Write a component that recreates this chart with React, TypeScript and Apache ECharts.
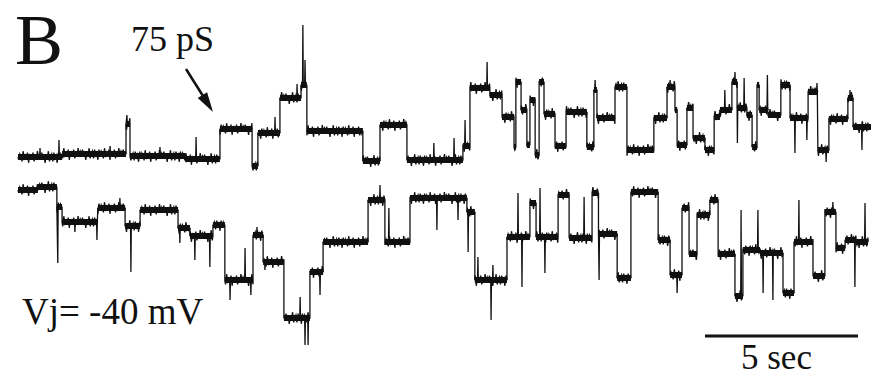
import { useEffect, useRef } from "react";
import * as echarts from "echarts";

// Single-channel recording, two simultaneous traces (time in s, current in pA).
// Dwell segments: [start s, end s, level pA]; brief excursions: [time s, peak pA].
const topDwells: [number, number, number][] = [
  [0, 1.44, 0], [1.44, 3.53, 0.3], [3.53, 3.66, 3.3], [3.66, 5.46, 0.1],
  [5.46, 6.6, -0.2], [6.6, 7.65, 2.8], [7.65, 7.84, -0.9], [7.84, 8.56, 2.4],
  [8.56, 9.25, 5.9], [9.25, 9.44, 7.2], [9.44, 11.27, 2.6], [11.27, 11.83, -0.4],
  [11.83, 12.71, 3.2], [12.71, 14.54, -0.3], [14.54, 14.77, 1.1], [14.77, 15.42, 6.9],
  [15.42, 15.82, 6.2], [15.82, 16.21, 4.0], [16.21, 16.27, 1.0], [16.27, 16.44, 7.5],
  [16.44, 16.63, 4.7], [16.63, 16.73, 1.2], [16.73, 16.9, 5.7], [16.9, 17.03, 0.2],
  [17.03, 17.19, 7.5], [17.19, 17.55, 4.3], [17.55, 17.91, 1.1], [17.91, 18.59, 4.5],
  [18.59, 18.82, 1.0], [18.82, 18.92, 6.7], [18.92, 19.51, 3.9], [19.51, 19.9, 7.0],
  [19.9, 20.78, 0.7], [20.78, 21.21, 3.9], [21.21, 21.47, 7.0], [21.47, 21.54, 4.7],
  [21.54, 21.86, 1.2], [21.86, 22.06, 4.9], [22.06, 22.45, 1.9], [22.45, 22.75, 0.7],
  [22.75, 22.94, 4.0], [22.94, 23.33, 4.7], [23.33, 23.5, 7.5], [23.5, 23.82, 4.9],
  [23.82, 23.99, 4.2], [23.99, 24.15, 1.0], [24.15, 24.22, 7.2], [24.22, 24.51, 4.7],
  [24.51, 24.93, 4.2], [24.93, 25.23, 7.2], [25.23, 25.82, 3.9], [25.82, 26.14, 6.5],
  [26.14, 26.5, 0.7], [26.5, 27.12, 3.8], [27.12, 27.29, 5.9], [27.29, 27.88, 3.0],
];
const topSpikes: [number, number][] = [
  [0.72, 0.9], [1.34, 1.7], [3.01, 1.1], [3.56, 4.2], [4.64, 1.0], [5.82, 2.0],
  [8.4, 4.0], [9.12, 7.3], [9.31, 13.2], [9.38, 9.7], [13.59, 1.4], [14.25, 1.9],
  [14.61, 3.7], [15.33, 9.5], [18.86, 7.7], [21.31, 7.7], [23.1, 6.7], [23.43, 8.5],
  [23.51, 1.4], [23.73, 7.9], [24.49, 8.2], [25.39, 0.4], [25.78, 1.7], [26.11, 7.4],
  [26.41, -0.5], [27.19, 6.7], [27.58, 0.7],
];

const bottomDwells: [number, number, number][] = [
  [0, 0.65, -0.2], [0.65, 1.27, 0.1], [1.27, 1.44, -1.9], [1.44, 2.61, -3.4],
  [2.61, 3.5, -2.0], [3.5, 3.99, -3.8], [3.99, 5.23, -2.2], [5.23, 5.62, -4.0],
  [5.62, 6.37, -4.8], [6.37, 6.76, -3.7], [6.76, 7.68, -9.2], [7.68, 8.01, -4.7],
  [8.01, 8.69, -7.4], [8.69, 9.54, -13.0], [9.54, 9.97, -8.4], [9.97, 11.44, -5.4],
  [11.44, 11.99, -1.2], [11.99, 12.81, -5.4], [12.81, 14.67, -1.0], [14.67, 14.93, -2.4],
  [14.93, 15.98, -9.2], [15.98, 16.73, -4.9], [16.73, 16.93, -1.5], [16.93, 17.65, -4.9],
  [17.65, 18.01, -0.7], [18.01, 18.76, -5.0], [18.76, 18.97, -0.5], [18.97, 19.58, -4.6],
  [19.58, 20.03, -9.0], [20.03, 20.92, -0.4], [20.92, 21.31, -5.2], [21.31, 21.7, -8.7],
  [21.7, 21.93, -2.0], [21.93, 22.19, -6.6], [22.19, 22.61, -2.7], [22.61, 22.88, -1.2],
  [22.88, 23.43, -6.6], [23.43, 23.69, -10.8], [23.69, 24.25, -6.2], [24.25, 25.0, -6.5],
  [25.0, 25.36, -10.5], [25.36, 25.98, -5.4], [25.98, 26.37, -8.8], [26.37, 26.73, -2.4],
  [26.73, 27.03, -6.0], [27.03, 27.39, -5.2], [27.39, 27.78, -5.4],
];
const bottomSpikes: [number, number][] = [
  [1.3, -7.5], [1.86, -4.4], [2.58, -5.2], [3.33, -1.0], [3.69, -8.4], [5.29, -5.5],
  [5.78, -7.2], [6.27, -7.9], [6.93, -11.2], [7.42, -6.0], [7.61, -10.7], [7.81, -3.9],
  [8.07, -8.2], [9.22, -10.9], [9.38, -15.7], [9.48, -15.7], [9.87, -10.7], [11.83, 0.3],
  [12.12, -2.0], [13.69, -4.2], [14.38, -3.2], [14.71, -6.4], [15.03, -6.9], [15.46, -13.2],
  [15.52, -7.7], [16.34, -0.5], [16.47, -9.9], [17.06, 0.0], [17.22, -8.5], [18.5, -0.9],
  [18.99, -9.2], [21.54, -10.5], [23.63, -2.2], [24.18, -2.2], [24.35, -10.5], [24.67, -11.2],
  [25.52, -1.2], [26.63, -1.4], [27.35, -9.9], [27.68, -1.5],
];

// Time scale bar: start and end in seconds, and its level on the lower trace's axis (pA).
const scaleBar: [number, number] = [22.45, 27.45];
const scaleBarLevel = -14.8;

const panelLabel = "B";
const conductanceLabel = "75 pS";
const voltageLabel = "Vj= -40 mV";
const scaleLabel = "5 sec";

const W = 871;
const H = 377;
const FONT = '"Liberation Serif", "Times New Roman", serif';
const INK = "#111";

// Fixed jagged texture (pixel offsets) used to draw the recording noise band.
const NOISE_TEXTURE = [
  0, -3, 2, -1, 4, -2, 1, -4, 3, 0, -2, 3, -3, 1, -1, 4, -3, 2, -2,
  0, 3, -4, 1, -1, 2, -3, 4, -2, 0, 1, -3, 3, -1, 2, -4, 1, -2,
];
const TEXTURE_STEP = 1.1;
const TEXTURE_GAIN = 1.45;

function tracePath(dwells: [number, number, number][], spikes: [number, number][]) {
  const pts: [number, number][] = [];
  for (const [t0, t1, lvl] of dwells) {
    pts.push([t0, lvl]);
    const inside = spikes.filter(([t]) => t >= t0 && t < t1).sort((a, b) => a[0] - b[0]);
    for (const [ts, peak] of inside) {
      pts.push([ts - 0.012, lvl], [ts, peak], [ts + 0.012, lvl]);
    }
    pts.push([t1, lvl]);
  }
  return pts;
}

// Noise band drawn over each dwell level.
function bandRender(params: any, api: any) {
  const a = api.coord([api.value(0), api.value(2)]);
  const b = api.coord([api.value(1), api.value(2)]);
  const y = a[1];
  const pts: number[][] = [];
  let i = Math.ceil(a[0] / TEXTURE_STEP);
  pts.push([a[0], y]);
  for (let x = i * TEXTURE_STEP; x < b[0]; x += TEXTURE_STEP, i++) {
    pts.push([x, y + NOISE_TEXTURE[i % NOISE_TEXTURE.length] * TEXTURE_GAIN]);
  }
  pts.push([b[0], y]);
  return {
    type: "group",
    children: [
      { type: "rect", shape: { x: a[0], y: y - 3, width: b[0] - a[0], height: 6 }, style: { fill: INK } },
      { type: "polyline", shape: { points: pts }, style: { stroke: INK, lineWidth: 1.3, fill: null } },
    ],
  };
}

export default function App() {
  const ref = useRef<HTMLDivElement>(null);

  useEffect(() => {
    if (!ref.current) return;
    const chart = echarts.init(ref.current, undefined, { renderer: "svg" });
    const xMax = 853 / 30.6;
    const grid = { left: 18, right: 0, top: 0, bottom: 0 };
    const axisX = (gridIndex: number) => ({
      type: "value" as const, gridIndex, min: 0, max: xMax, show: false,
    });
    chart.setOption({
      animation: false,
      backgroundColor: "#fff",
      grid: [grid, grid],
      xAxis: [axisX(0), axisX(1)],
      yAxis: [
        { type: "value", gridIndex: 0, min: -22.0, max: 15.7, show: false },
        { type: "value", gridIndex: 1, min: -18.9, max: 18.8, show: false },
      ],
      series: [
        {
          type: "custom", xAxisIndex: 0, yAxisIndex: 0, silent: true,
          renderItem: bandRender, encode: { x: [0, 1], y: 2 }, data: topDwells,
        },
        {
          type: "line", xAxisIndex: 0, yAxisIndex: 0, silent: true, showSymbol: false,
          lineStyle: { color: INK, width: 1.3 }, data: tracePath(topDwells, topSpikes),
        },
        {
          type: "custom", xAxisIndex: 1, yAxisIndex: 1, silent: true,
          renderItem: bandRender, encode: { x: [0, 1], y: 2 }, data: bottomDwells,
        },
        {
          type: "line", xAxisIndex: 1, yAxisIndex: 1, silent: true, showSymbol: false,
          lineStyle: { color: INK, width: 1.3 }, data: tracePath(bottomDwells, bottomSpikes),
        },
        {
          type: "line", xAxisIndex: 1, yAxisIndex: 1, silent: true, showSymbol: false,
          lineStyle: { color: INK, width: 3 },
          data: [[scaleBar[0], scaleBarLevel], [scaleBar[1], scaleBarLevel]],
        },
      ],
      graphic: [
        { type: "text", x: 15, y: 40, style: { text: panelLabel, font: `72px ${FONT}`, lineHeight: 72, fill: INK, align: "left", verticalAlign: "middle" } },
        { type: "text", x: 131, y: 39, style: { text: conductanceLabel, font: `36px ${FONT}`, lineHeight: 34, fill: INK, align: "left", verticalAlign: "middle" } },
        { type: "text", x: 22, y: 311, style: { text: voltageLabel, font: `37px ${FONT}`, lineHeight: 34, fill: INK, align: "left", verticalAlign: "middle" } },
        { type: "text", x: 741, y: 357, style: { text: scaleLabel, font: `35px ${FONT}`, lineHeight: 30, fill: INK, align: "left", verticalAlign: "middle" } },
        { type: "line", shape: { x1: 186, y1: 69, x2: 203, y2: 96 }, style: { stroke: INK, lineWidth: 2.5 } },
        { type: "polygon", shape: { points: [[213, 112], [197.7, 98], [207.1, 92.2]] }, style: { fill: INK } },
      ],
    });
    return () => chart.dispose();
  }, []);

  return <div ref={ref} style={{ position: "fixed", left: 0, top: 0, width: W, height: H }} />;
}
